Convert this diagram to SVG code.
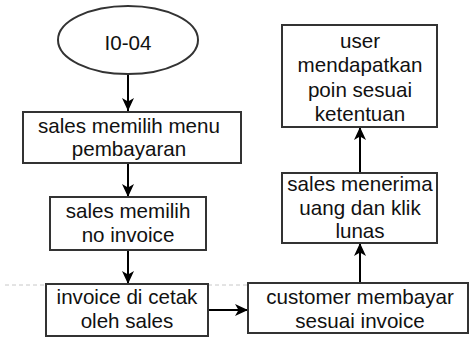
<svg xmlns="http://www.w3.org/2000/svg" width="470" height="338" viewBox="0 0 470 338">
<defs>
<style>
.n{fill:#fff;stroke:#333;stroke-width:2}
.t{font-family:"Liberation Sans",Arial,sans-serif;font-size:20.6px;fill:#111;text-anchor:middle}
.c{stroke:#000;stroke-width:2;fill:none;marker-end:url(#ah)}
</style>
<marker id="ah" markerUnits="userSpaceOnUse" markerWidth="14" markerHeight="12" refX="13" refY="6" orient="auto">
<path d="M0,0 L13,6 L0,12 L3.5,6 z" fill="#000"/>
</marker>
</defs>
<rect width="470" height="338" fill="#fff"/>
<line x1="5" y1="285" x2="250" y2="285" stroke="#c8c8c8" stroke-width="1" stroke-dasharray="4,3"/>
<g id="connectors">
<line class="c" x1="128" y1="75" x2="128" y2="111"/>
<line class="c" x1="128" y1="163" x2="128" y2="197"/>
<line class="c" x1="128" y1="250" x2="128" y2="284"/>
<line class="c" x1="208" y1="310" x2="248" y2="310"/>
<line class="c" x1="360" y1="283" x2="360" y2="243"/>
<line class="c" x1="360" y1="173" x2="360" y2="127"/>
</g>
<g id="start">
<ellipse class="n" cx="128" cy="40" rx="70" ry="34"/>
<text class="t" x="128" y="50">I0-04</text>
</g>
<g id="n1">
<rect class="n" x="23" y="112" width="218" height="51"/>
<text class="t" x="129" y="133">sales memilih menu</text>
<text class="t" x="129" y="156">pembayaran</text>
</g>
<g id="n2">
<rect class="n" x="50" y="197" width="156" height="53"/>
<text class="t" x="128" y="218">sales memilih</text>
<text class="t" x="128" y="242">no invoice</text>
</g>
<g id="n3">
<rect class="n" x="46" y="284" width="162" height="52"/>
<text class="t" x="127" y="304">invoice di cetak</text>
<text class="t" x="127" y="328">oleh sales</text>
</g>
<g id="n4">
<rect class="n" x="248" y="283" width="220" height="50"/>
<text class="t" x="360" y="304">customer membayar</text>
<text class="t" x="360" y="328">sesuai invoice</text>
</g>
<g id="n5">
<rect class="n" x="282" y="173" width="155" height="70"/>
<text class="t" x="360" y="191">sales menerima</text>
<text class="t" x="360" y="215">uang dan klik</text>
<text class="t" x="360" y="238">lunas</text>
</g>
<g id="n6">
<rect class="n" x="282" y="25" width="155" height="102"/>
<text class="t" x="360" y="48">user</text>
<text class="t" x="360" y="72">mendapatkan</text>
<text class="t" x="360" y="97">poin sesuai</text>
<text class="t" x="360" y="121">ketentuan</text>
</g>
</svg>
